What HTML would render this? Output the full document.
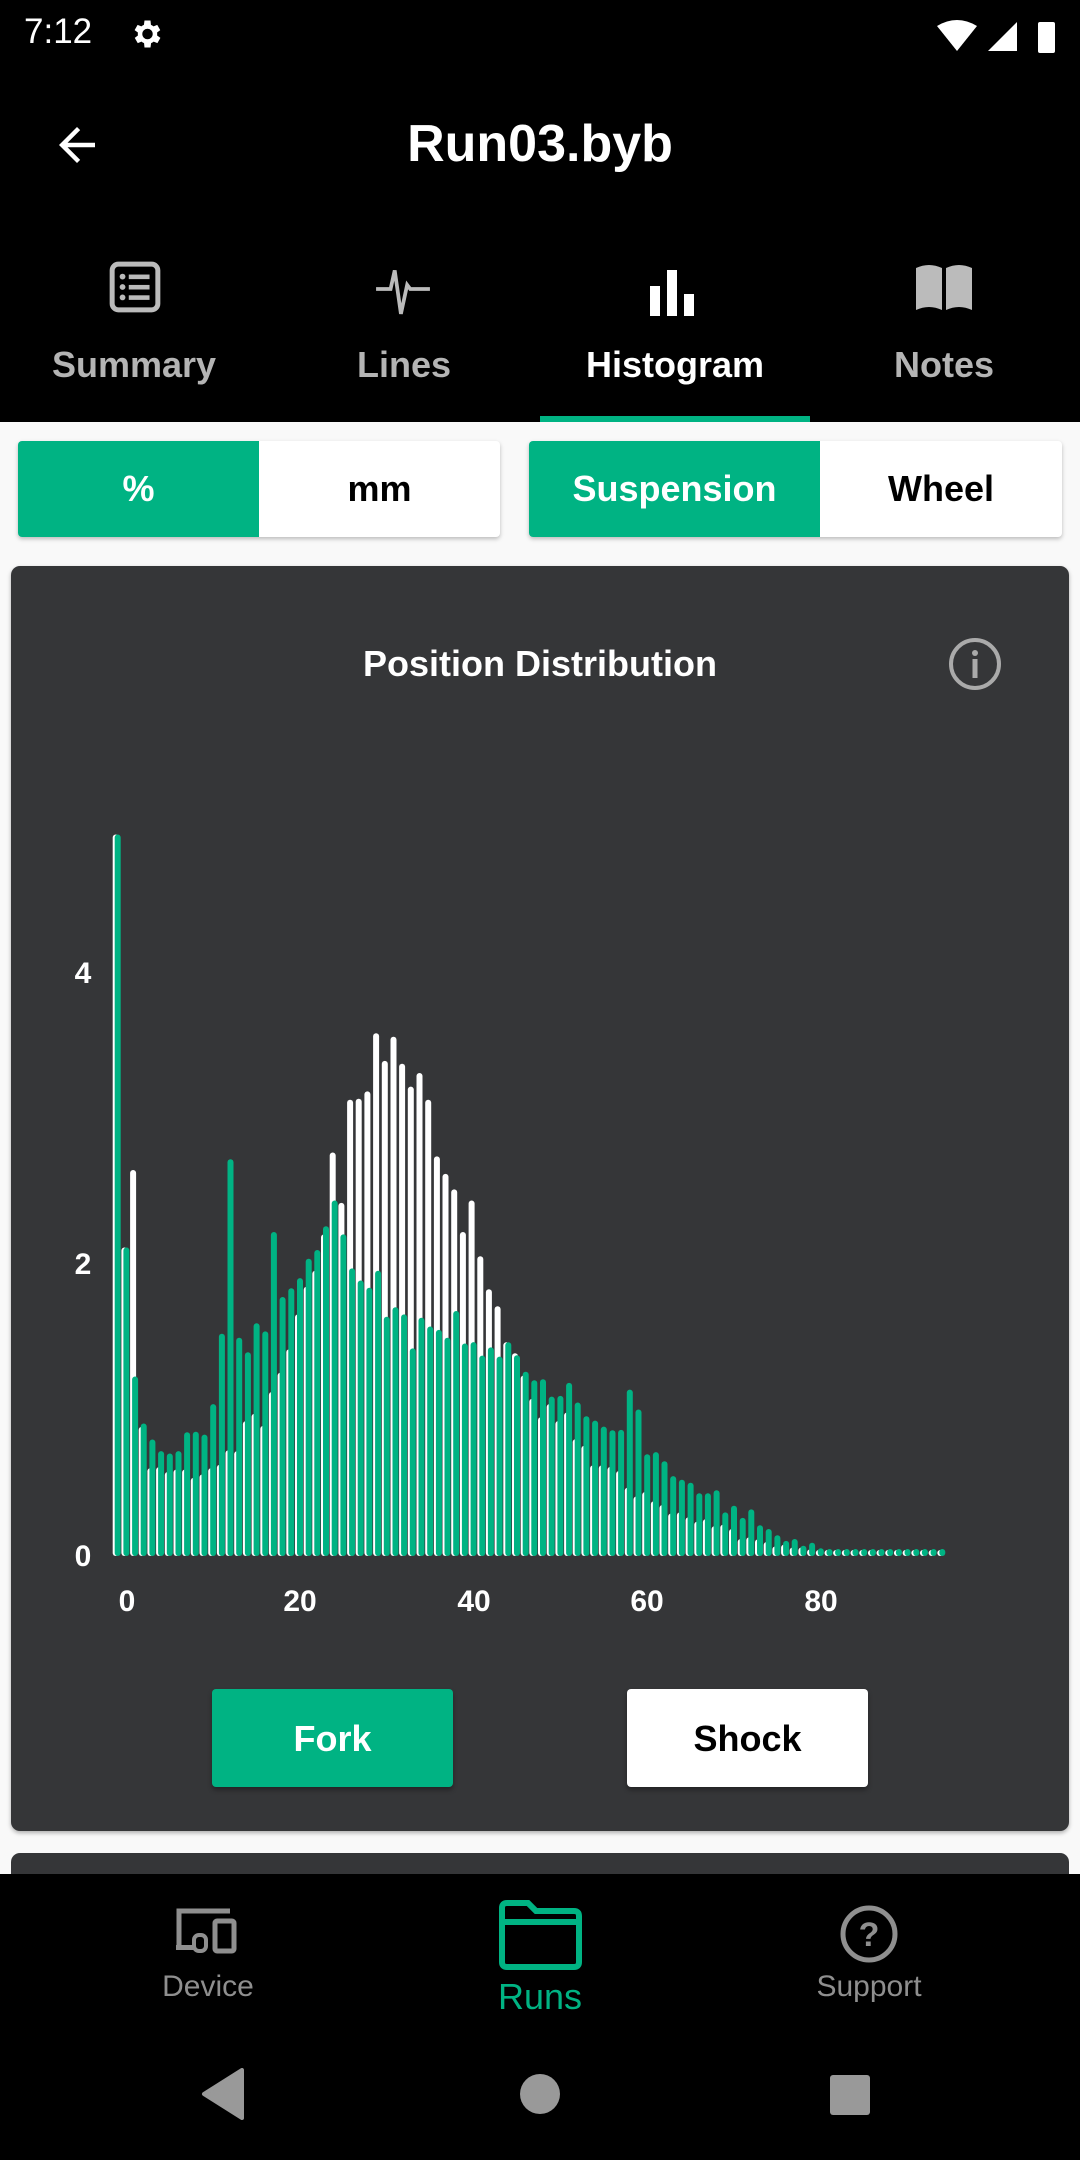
<!DOCTYPE html>
<html><head><meta charset="utf-8"><style>
*{margin:0;padding:0;box-sizing:border-box}
body{width:1080px;height:2160px;background:#f9f9f9;font-family:"Liberation Sans",sans-serif;position:relative;overflow:hidden}
.abs{position:absolute}
.txt{position:absolute;white-space:nowrap}
</style></head><body>
<div class="abs" style="left:0;top:0;width:1080px;height:422px;background:#000"></div>
<div class="txt" style="left:24px;top:12px;font-size:35px;color:#fff">7:12</div>
<svg class="abs" style="left:128px;top:16px" width="36" height="36" viewBox="0 0 24 24"><path fill="#fff" d="M19.4 13a7.5 7.5 0 0 0 0-2l2.1-1.6-2-3.5-2.5 1a7 7 0 0 0-1.7-1L15 3h-4l-.4 2.9a7 7 0 0 0-1.7 1l-2.5-1-2 3.5L6.6 11a7.5 7.5 0 0 0 0 2l-2.1 1.6 2 3.5 2.5-1a7 7 0 0 0 1.7 1L11 21h4l.4-2.9a7 7 0 0 0 1.7-1l2.5 1 2-3.5zM13 15.5a3.5 3.5 0 1 1 0-7 3.5 3.5 0 0 1 0 7z"/></svg>
<svg class="abs" style="left:935px;top:18px" width="130" height="40"><path d="M2 8 Q22 -4 42 8 L22 33Z" fill="#fff"/><path d="M82 4 L82 33 L53 33Z" fill="#fff"/><rect x="103" y="4" width="17" height="31" rx="2" fill="#fff"/></svg>
<svg class="abs" style="left:50px;top:118px" width="54" height="54" viewBox="0 0 24 24"><path fill="#fff" d="M20 11H7.8l5.6-5.6L12 4l-8 8 8 8 1.4-1.4L7.8 13H20z"/></svg>
<div class="txt" style="left:0;width:1080px;text-align:center;top:114px;font-size:52px;font-weight:bold;color:#fff">Run03.byb</div>
<!-- tabs -->
<svg class="abs" style="left:108px;top:260px" width="54" height="54" viewBox="0 0 26 26"><rect x="2" y="2" width="22" height="22" rx="3" fill="none" stroke="#bbb" stroke-width="2.4"/><g fill="#bbb"><circle cx="7" cy="8" r="1.4"/><circle cx="7" cy="13" r="1.4"/><circle cx="7" cy="18" r="1.4"/><rect x="10" y="7" width="10" height="2.2"/><rect x="10" y="12" width="10" height="2.2"/><rect x="10" y="17" width="10" height="2.2"/></g></svg>
<svg class="abs" style="left:374px;top:260px" width="58" height="58" viewBox="0 0 28 28"><path d="M1 14h7l2-9 3 21 3-14 1.5 2H27" fill="none" stroke="#bbb" stroke-width="1.8"/></svg>
<svg class="abs" style="left:648px;top:268px" width="54" height="50"><rect x="2" y="18" width="10" height="30" fill="#fff"/><rect x="19" y="2" width="10" height="46" fill="#fff"/><rect x="36" y="26" width="10" height="22" fill="#fff"/></svg>
<svg class="abs" style="left:914px;top:262px" width="60" height="52"><path d="M2 6 Q15 0 28 6 V48 Q15 42 2 48Z M32 6 Q45 0 58 6 V48 Q45 42 32 48Z" fill="#bbb"/></svg>
<div class="txt" style="left:34px;width:200px;text-align:center;top:344px;font-size:36px;font-weight:bold;color:#b4b4b4">Summary</div>
<div class="txt" style="left:304px;width:200px;text-align:center;top:344px;font-size:36px;font-weight:bold;color:#b4b4b4">Lines</div>
<div class="txt" style="left:575px;width:200px;text-align:center;top:344px;font-size:36px;font-weight:bold;color:#fff">Histogram</div>
<div class="txt" style="left:844px;width:200px;text-align:center;top:344px;font-size:36px;font-weight:bold;color:#b4b4b4">Notes</div>
<div class="abs" style="left:540px;top:416px;width:270px;height:6px;background:#00b383"></div>
<!-- toggles -->
<div class="abs" style="left:18px;top:441px;width:482px;height:96px;background:#fff;border-radius:4px;box-shadow:0 2px 4px rgba(0,0,0,.25)"></div>
<div class="abs" style="left:18px;top:441px;width:241px;height:96px;background:#00b383;border-radius:4px 0 0 4px"></div>
<div class="txt" style="left:18px;width:241px;text-align:center;top:468px;font-size:36px;font-weight:bold;color:#fff">%</div>
<div class="txt" style="left:259px;width:241px;text-align:center;top:468px;font-size:36px;font-weight:bold;color:#000">mm</div>
<div class="abs" style="left:529px;top:441px;width:533px;height:96px;background:#fff;border-radius:4px;box-shadow:0 2px 4px rgba(0,0,0,.25)"></div>
<div class="abs" style="left:529px;top:441px;width:291px;height:96px;background:#00b383;border-radius:4px 0 0 4px"></div>
<div class="txt" style="left:529px;width:291px;text-align:center;top:468px;font-size:36px;font-weight:bold;color:#fff">Suspension</div>
<div class="txt" style="left:820px;width:242px;text-align:center;top:468px;font-size:36px;font-weight:bold;color:#000">Wheel</div>
<!-- card -->
<div class="abs" style="left:11px;top:566px;width:1058px;height:1265px;background:#353638;border-radius:9px;box-shadow:0 2px 4px rgba(0,0,0,.3)"></div>
<div class="txt" style="left:0;width:1080px;text-align:center;top:643px;font-size:36px;font-weight:bold;color:#fff">Position Distribution</div>
<svg class="abs" style="left:947px;top:636px" width="56" height="56"><circle cx="28" cy="28" r="24" fill="none" stroke="#aaa" stroke-width="4"/><circle cx="28" cy="17" r="3" fill="#aaa"/><rect x="25.5" y="23" width="5" height="19" fill="#aaa"/></svg>
<svg id="ch" class="abs" style="left:0;top:0" width="1080" height="1700"></svg>
<div class="txt" style="left:60px;width:46px;text-align:center;top:957px;font-size:30px;font-weight:bold;color:#fff">4</div>
<div class="txt" style="left:60px;width:46px;text-align:center;top:1248px;font-size:30px;font-weight:bold;color:#fff">2</div>
<div class="txt" style="left:60px;width:46px;text-align:center;top:1540px;font-size:30px;font-weight:bold;color:#fff">0</div>
<div class="txt" style="left:97px;width:60px;text-align:center;top:1585px;font-size:30px;font-weight:bold;color:#fff">0</div>
<div class="txt" style="left:270px;width:60px;text-align:center;top:1585px;font-size:30px;font-weight:bold;color:#fff">20</div>
<div class="txt" style="left:444px;width:60px;text-align:center;top:1585px;font-size:30px;font-weight:bold;color:#fff">40</div>
<div class="txt" style="left:617px;width:60px;text-align:center;top:1585px;font-size:30px;font-weight:bold;color:#fff">60</div>
<div class="txt" style="left:791px;width:60px;text-align:center;top:1585px;font-size:30px;font-weight:bold;color:#fff">80</div>
<div class="abs" style="left:212px;top:1689px;width:241px;height:98px;background:#00b383;border-radius:4px;box-shadow:0 3px 5px rgba(0,0,0,.35)"></div>
<div class="txt" style="left:212px;width:241px;text-align:center;top:1718px;font-size:36px;font-weight:bold;color:#fff">Fork</div>
<div class="abs" style="left:627px;top:1689px;width:241px;height:98px;background:#fff;border-radius:4px;box-shadow:0 3px 5px rgba(0,0,0,.35)"></div>
<div class="txt" style="left:627px;width:241px;text-align:center;top:1718px;font-size:36px;font-weight:bold;color:#000">Shock</div>
<div class="abs" style="left:11px;top:1853px;width:1058px;height:60px;background:#353638;border-radius:9px"></div>
<!-- bottom nav -->
<div class="abs" style="left:0;top:1874px;width:1080px;height:286px;background:#000"></div>
<svg class="abs" style="left:176px;top:1905px" width="64" height="60"><path d="M3 40 V6 H54" fill="none" stroke="#8f8f8f" stroke-width="5"/><rect x="39" y="16" width="19" height="30" rx="2" fill="none" stroke="#8f8f8f" stroke-width="5"/><rect x="18" y="30" width="12" height="16" rx="5" fill="none" stroke="#8f8f8f" stroke-width="4"/><rect x="0" y="40" width="20" height="5" fill="#8f8f8f"/></svg>
<div class="txt" style="left:108px;width:200px;text-align:center;top:1970px;font-size:30px;color:#8f8f8f">Device</div>
<svg class="abs" style="left:498px;top:1900px" width="86" height="72"><path d="M4 8 Q4 3 9 3 H30 L38 11 H76 Q81 11 81 16 V62 Q81 67 76 67 H9 Q4 67 4 62Z M4 22 H81" fill="none" stroke="#00b383" stroke-width="6"/></svg>
<div class="txt" style="left:440px;width:200px;text-align:center;top:1976px;font-size:36px;color:#00b383">Runs</div>
<svg class="abs" style="left:839px;top:1904px" width="60" height="60"><circle cx="30" cy="30" r="26" fill="none" stroke="#8f8f8f" stroke-width="5"/><text x="30" y="42" text-anchor="middle" font-size="34" font-family="Liberation Sans" font-weight="bold" fill="#8f8f8f">?</text></svg>
<div class="txt" style="left:769px;width:200px;text-align:center;top:1970px;font-size:30px;color:#8f8f8f">Support</div>
<svg class="abs" style="left:200px;top:2068px" width="44" height="52"><path d="M42 2 V50 L4 26Z" fill="#999" stroke="#999" stroke-width="4" stroke-linejoin="round"/></svg>
<div class="abs" style="left:520px;top:2074px;width:40px;height:40px;border-radius:50%;background:#999"></div>
<div class="abs" style="left:830px;top:2075px;width:40px;height:40px;border-radius:3px;background:#999"></div>
<script>
var z1=[[30,30],[882,882],[1148,722],[1245,1252],[1278,1337],[1302,1335],[1307,1345],[1302,1340],[1263,1340],[1262,1357],[1268,1350],[1205,1337],[1060,1330],[700,1300],[1068,1302],[1098,1240],[1038,1225],[1055,1250],[850,1180],[984,1140],[966,1092],[945,1020],[905,963],[887,930],[838,855],[785,686],[855,790],[925,577],[950,575],[965,560],[930,440],[1025,497],[1005,447],[1020,503],[1090,550],[1027,522],[1045,577],[1052,694],[1068,730],[1013,762],[1080,850],[1077,785],[1105,900],[1088,968],[1107,1003]];
var z2=[[925,925],[960,955],[1005,1015],[1028,1078],[1025,1128],[1072,1092],[1070,1138],[1035,1115],[1088,1187],[1125,1205],[1137,1258],[1153,1258],[1163,1262],[1162,1273],[1053,1318],[1107,1342],[1228,1330],[1222,1355],[1247,1365],[1287,1388],[1297,1385],[1305,1398],[1333,1410],[1333,1403],[1325,1422],[1385,1418],[1367,1430],[1400,1457],[1377,1452],[1420,1458],[1430,1465],[1447,1477],[1462,1472],[1457,1480],[1475,1480],[1467,1485],[1482,1490]];
var B=1554,s='';
var bars=[];
z1.forEach(function(p){bars.push([820+p[0]/2.063,820+p[1]/2.063])});
z2.forEach(function(p){bars.push([1000+p[0]/2.703,1000+p[1]/2.703])});
while(bars.length<96){var k=bars.length;bars.push([1000+(k==85?1488:1492)/2.703,1000+1495/2.703]);}
var w='',g='';
bars.forEach(function(b,i){var x=117.7+8.68*i;
 var wy=Math.min(b[1],B-4),gy=Math.min(b[0],B-5);
 w+='<rect x="'+(x-5).toFixed(1)+'" y="'+wy.toFixed(1)+'" width="6" height="'+(B-wy+2).toFixed(1)+'" rx="3" fill="#fff"/>';
 g+='<rect x="'+(x-3).toFixed(1)+'" y="'+gy.toFixed(1)+'" width="6" height="'+(B-gy+2).toFixed(1)+'" rx="3" fill="#00b383"/>';
});
document.getElementById('ch').innerHTML=w+g;
</script>
</body></html>
